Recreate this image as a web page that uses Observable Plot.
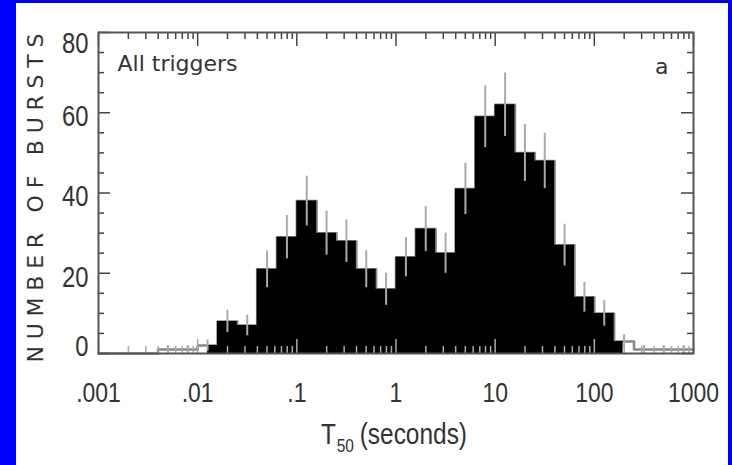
<!DOCTYPE html>
<html><head><meta charset="utf-8">
<script src="https://cdn.jsdelivr.net/npm/d3@7"></script>
<script src="https://cdn.jsdelivr.net/npm/@observablehq/plot@0.6"></script>
<style>
html,body{margin:0;padding:0;background:#0000ff;width:732px;height:465px;overflow:hidden}
#wrap{position:absolute;left:16px;top:3px;width:712px;height:462px;background:#fff}
#wrap svg{display:block;overflow:visible}
</style></head><body><div id="wrap"></div>
<script>
// log10 bin edges (0.2 decade bins from 0.001 s to 1000 s)
const binEdgesLog10 = [-3,-2.8,-2.6,-2.4,-2.2,-2,-1.8,-1.6,-1.4,-1.2,-1,-0.8,-0.6,-0.4,-0.2,0,0.2,0.4,0.6,0.8,1,1.2,1.4,1.6,1.8,2,2.2,2.4,2.6,2.8,3];
// number of bursts per bin
const counts = [0,0,0,1,1,2,8,7,21,29,38,30,28,21,16,24,31,25,41,59,62,50,48,27,14,10,3,1,1,1];
// error bar half-lengths
const errors = [0,0,0,1,1,1.4,2.8,2.6,4.6,5.4,6.2,5.5,5.3,4.6,4,4.9,5.6,5,6.4,7.7,7.9,7.1,6.9,5.2,3.7,3.2,1.7,1,1,1];
const fillRange = [0.0126, 195];
const xTickValues = [0.001,0.01,0.1,1,10,100,1000];
const xTickLabels = [".001",".01",".1","1","10","100","1000"];
const yTickValues = [0,20,40,60,80];
const yTickLabels = ["0","20","40","60","80"];
const panelLabel = "All triggers";
const panelLetter = "a";
const yTitle = "NUMBER OF BURSTS";
const xTitleMain = "T", xTitleSub = "50", xTitleRest = "(seconds)";

const W = 712, H = 462, mL = 82, mR = 35, mT = 29, mB = 112;
const fw = W - mL - mR, fh = H - mT - mB;
const narrow = "'Liberation Sans Narrow','Liberation Sans',Arial,sans-serif";
const wide = "'DejaVu Sans',sans-serif";
const txt = "#333";

const bins = counts.map((c, i) => ({lo: 10 ** binEdgesLog10[i], hi: 10 ** binEdgesLog10[i + 1], count: c, err: errors[i]}));
bins.forEach(b => b.mid = Math.sqrt(b.lo * b.hi));
const fillBins = bins.map(b => ({x1: Math.max(b.lo, fillRange[0]), x2: Math.min(b.hi, fillRange[1]), count: b.count}))
  .filter(b => b.x1 < b.x2 && b.count > 0);
const fillPts = fillBins.map(b => ({x: b.x1, y: b.count})).concat([{x: fillBins[fillBins.length - 1].x2, y: fillBins[fillBins.length - 1].count}]);
const stepPts = bins.map(b => ({x: b.lo, y: b.count})).concat([{x: bins[bins.length - 1].hi, y: counts[counts.length - 1]}]);

const xMinor = d3.scaleLog().domain([0.001, 1000]).ticks().filter(v => Math.abs(Math.log10(v) - Math.round(Math.log10(v))) > 1e-6);
const yMinor = d3.range(0, 81, 5).filter(v => v % 20 !== 0);

const yMid = yTickValues.slice(1, -1), yMidLab = yTickLabels.slice(1, -1);

const svg = Plot.plot({
  width: W, height: H, marginLeft: mL, marginRight: mR, marginTop: mT, marginBottom: mB,
  x: {type: "log", domain: [0.001, 1000], axis: null},
  y: {domain: [0, 80], axis: null},
  style: {background: "transparent", color: txt, overflow: "visible"},
  marks: [
    Plot.line(stepPts, {x: "x", y: "y", curve: "step-after", stroke: "#888", strokeWidth: 2.5}),
    Plot.areaY(fillPts, {x: "x", y: "y", curve: "step-after", fill: "#000"}),
    Plot.ruleX(bins.filter(b => b.count > 0), {x: "mid", y1: d => d.count - d.err, y2: d => d.count + d.err, stroke: "#aaa", strokeWidth: 2}),
    // bottom ticks (inward)
    Plot.ruleX(xTickValues, {insetTop: fh - 14, stroke: "#aaa", strokeWidth: 1.5}),
    Plot.ruleX(xMinor, {insetTop: fh - 7, stroke: "#aaa", strokeWidth: 1.5}),
    // top ticks
    Plot.ruleX(xTickValues, {insetBottom: fh - 14, stroke: "#444", strokeWidth: 1.5}),
    Plot.ruleX(xMinor, {insetBottom: fh - 7, stroke: "#444", strokeWidth: 1.5}),
    // left ticks
    Plot.ruleY(yTickValues, {insetRight: fw - 12, stroke: "#444", strokeWidth: 1.5}),
    Plot.ruleY(yMinor, {insetRight: fw - 6, stroke: "#444", strokeWidth: 1.5}),
    // right ticks
    Plot.ruleY(yTickValues, {insetLeft: fw - 12, stroke: "#444", strokeWidth: 1.5}),
    Plot.ruleY(yMinor, {insetLeft: fw - 6, stroke: "#444", strokeWidth: 1.5}),
    Plot.frame({stroke: "#555", strokeWidth: 2}),
    // x tick labels
    Plot.text(xTickValues, {x: d => d, text: (d, i) => xTickLabels[i], frameAnchor: "bottom", dy: 40, lineAnchor: "middle", textAnchor: "middle", fontSize: 28, fontFamily: narrow, fill: txt}),
    // y tick labels
    Plot.text(yMid, {y: d => d, text: (d, i) => yMidLab[i], frameAnchor: "left", dx: -10, dy: 4, textAnchor: "end", lineAnchor: "middle", fontSize: 29, fontFamily: narrow, fill: txt}),
    Plot.text([yTickValues[0]], {y: d => d, text: () => yTickLabels[0], frameAnchor: "left", dx: -10, dy: -7, textAnchor: "end", lineAnchor: "middle", fontSize: 29, fontFamily: narrow, fill: txt}),
    Plot.text([yTickValues[4]], {y: d => d, text: () => yTickLabels[4], frameAnchor: "left", dx: -10, dy: 11, textAnchor: "end", lineAnchor: "middle", fontSize: 29, fontFamily: narrow, fill: txt}),
    // x title
    Plot.text([xTitleMain], {text: d => d, frameAnchor: "bottom", dx: -2, dy: 90, textAnchor: "middle", lineAnchor: "bottom", fontSize: 30, fontFamily: narrow, fill: txt}),
    // y title
    Plot.text([yTitle], {text: d => d, frameAnchor: "left", rotate: -90, dx: -63, dy: 5, textAnchor: "middle", lineAnchor: "middle", fontSize: 22, fontFamily: wide, fill: txt}),
    // panel labels
    Plot.text([panelLabel], {text: d => d, frameAnchor: "top-left", dx: 19, dy: 23, textAnchor: "start", lineAnchor: "top", fontSize: 22, fontFamily: wide, fill: txt}),
    Plot.text([panelLetter], {text: d => d, frameAnchor: "top-right", dx: -25, dy: 26, textAnchor: "end", lineAnchor: "top", fontSize: 22, fontFamily: wide, fill: txt})
  ]
});
document.getElementById("wrap").appendChild(svg);

const allText = d3.select(svg).selectAll("text");
// subscript in the x title
const xt = allText.filter(function () { return this.textContent === xTitleMain; });
xt.text(null);
xt.append("tspan").text(xTitleMain);
xt.append("tspan").attr("font-size", 19).attr("dx", 1).attr("dy", 8).text(xTitleSub);
xt.append("tspan").attr("dx", 7).attr("dy", -8).text(xTitleRest);
xt.attr("textLength", 146).attr("lengthAdjust", "spacingAndGlyphs");
// condensed tick labels
const tickSet = new Set([...xTickLabels, ...yTickLabels]);
allText.filter(function () { return tickSet.has(this.textContent); }).each(function () {
  const w = this.getComputedTextLength();
  d3.select(this).attr("textLength", w * 0.82).attr("lengthAdjust", "spacingAndGlyphs");
});
// spaced-out y title
allText.filter(function () { return this.textContent === yTitle; })
  .attr("textLength", 329).attr("lengthAdjust", "spacing");
</script>
</body></html>
